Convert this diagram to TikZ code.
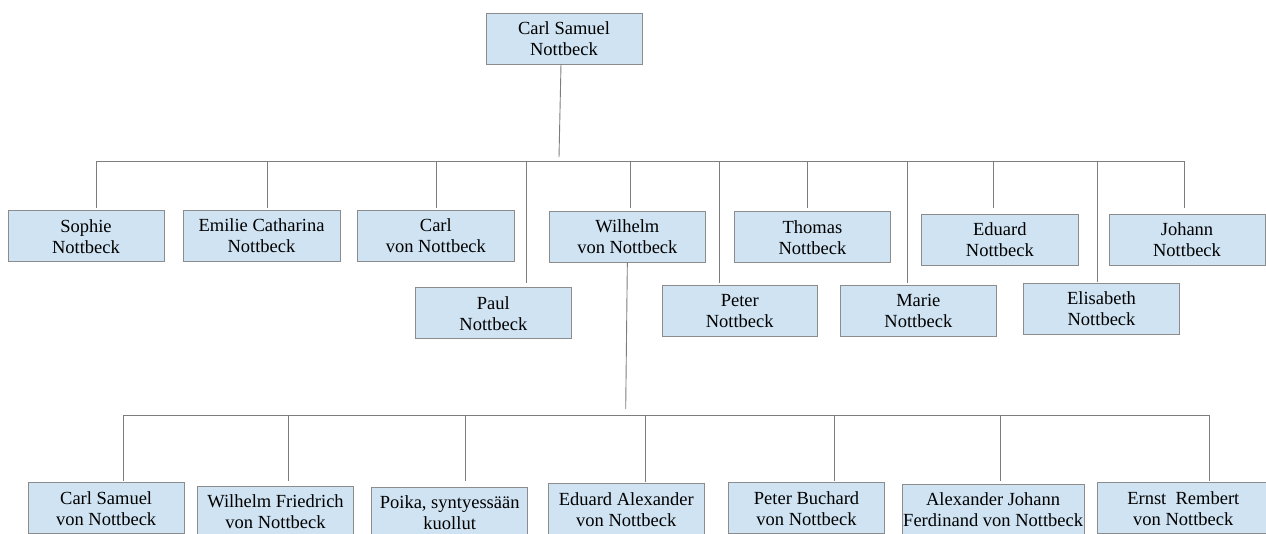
\documentclass[tikz,border=0pt]{standalone}
\usepackage{fontspec}
\setmainfont{Liberation Serif}
\definecolor{boxfill}{RGB}{207,227,242}
\definecolor{boxline}{RGB}{140,140,140}
\definecolor{conn}{RGB}{125,125,125}
\begin{document}
\begin{tikzpicture}[x=1pt,y=-1pt,
  person/.style={draw=boxline, fill=boxfill, line width=1pt, anchor=north west,
    inner sep=0pt, outer sep=0pt, minimum height=51pt, align=center, text depth=-4pt,
    font=\fontsize{18.5}{21}\selectfont, text=black},
  link/.style={draw=conn, line width=0.9pt}]
\clip (0,0) rectangle (1266,533);
% top
\node[person, minimum width=156pt] (top) at (486,13) {Carl Samuel\\Nottbeck};
% generation 2, upper row
\node[person, minimum width=156pt] (sophie) at (8,210.7) {Sophie\\Nottbeck};
\node[person, minimum width=157pt] (emilie) at (183,210.5) {Emilie Catharina\\Nottbeck};
\node[person, minimum width=156.3pt] (carl) at (357.7,210) {Carl\\von Nottbeck};
\node[person, minimum width=156.7pt] (wilhelm) at (549,211) {Wilhelm\\von Nottbeck};
\node[person, minimum width=156.3pt] (thomas) at (734.3,211.7) {Thomas\\Nottbeck};
\node[person, minimum width=156.3pt] (eduard) at (921.7,214.3) {Eduard\\Nottbeck};
\node[person, minimum width=156pt] (johann) at (1109,214.3) {Johann\\Nottbeck};
% generation 2, lower row
\node[person, minimum width=155.3pt] (paul) at (415.7,287.7) {Paul\\Nottbeck};
\node[person, minimum width=155.5pt] (peter) at (662,285) {Peter\\Nottbeck};
\node[person, minimum width=156.7pt] (marie) at (840,285) {Marie\\Nottbeck};
\node[person, minimum width=156pt] (elisabeth) at (1023.5,283.3) {Elisabeth\\Nottbeck};
% generation 3
\node[person, minimum width=155.7pt] (cs) at (28.3,482.7) {Carl Samuel\\von Nottbeck};
\node[person, minimum width=155.6pt] (wf) at (197.7,486) {Wilhelm Friedrich\\von Nottbeck};
\node[person, minimum width=156pt] (poika) at (371.7,487) {Poika, syntyessään\\kuollut};
\node[person, minimum width=156pt] (ea) at (548.3,483.7) {Eduard Alexander\\von Nottbeck};
\node[person, minimum width=156.5pt] (pb) at (728.3,482.7) {Peter Buchard\\von Nottbeck};
\node[person, minimum width=181.7pt] (aj) at (902.3,484) {Alexander Johann\\Ferdinand von Nottbeck};
\node[person, minimum width=172pt] (er) at (1097.3,482.7) {Ernst\ \ Rembert\\von Nottbeck};
% first bar
\coordinate (tj) at (559,157);
\coordinate (a1) at (96.7,161);
\coordinate (a2) at (267,161);
\coordinate (a3) at (436.7,161);
\coordinate (a4) at (526.7,161);
\coordinate (a5) at (630,161);
\coordinate (a6) at (719,161);
\coordinate (a7) at (807.5,161);
\coordinate (a8) at (907,161);
\coordinate (a9) at (993,161);
\coordinate (a10) at (1097.5,161);
\coordinate (a11) at (1184,161);
\draw[link] ([xshift=-3pt]top.south) -- (tj);
\draw[link] (a1) -- (a11);
\draw[link, shorten >=2.5pt] (a1) -- (a1 |- sophie.north);
\draw[link, shorten >=2.5pt] (a2) -- (a2 |- emilie.north);
\draw[link, shorten >=2pt] (a3) -- (a3 |- carl.north);
\draw[link, shorten >=4.5pt] (a4) -- (a4 |- paul.north);
\draw[link, shorten >=3pt] (a5) -- (a5 |- wilhelm.north);
\draw[link, shorten >=2pt] (a6) -- (a6 |- peter.north);
\draw[link, shorten >=3.5pt] (a7) -- (a7 |- thomas.north);
\draw[link, shorten >=2pt] (a8) -- (a8 |- marie.north);
\draw[link, shorten >=6pt] (a9) -- (a9 |- eduard.north);
\draw[link, shorten >=1.5pt] (a10) -- (a10 |- elisabeth.north);
\draw[link, shorten >=6pt] (a11) -- (a11 |- johann.north);
% second bar
\coordinate (wj) at (625.7,409);
\coordinate (b1) at (123.7,415);
\coordinate (b2) at (288.3,415);
\coordinate (b3) at (465,415);
\coordinate (b4) at (645.7,415);
\coordinate (b5) at (834.3,415);
\coordinate (b6) at (1000.7,415);
\coordinate (b7) at (1209,415);
\draw[link] (wilhelm.south) -- (wj);
\draw[link] (b1) -- (b7);
\draw[link, shorten >=2pt] (b1) -- (b1 |- cs.north);
\draw[link, shorten >=5pt] (b2) -- (b2 |- wf.north);
\draw[link, shorten >=6pt] (b3) -- (b3 |- poika.north);
\draw[link, shorten >=2pt] (b4) -- (b4 |- ea.north);
\draw[link, shorten >=2pt] (b5) -- (b5 |- pb.north);
\draw[link, shorten >=3pt] (b6) -- (b6 |- aj.north);
\draw[link, shorten >=2pt] (b7) -- (b7 |- er.north);
\end{tikzpicture}
\end{document}
